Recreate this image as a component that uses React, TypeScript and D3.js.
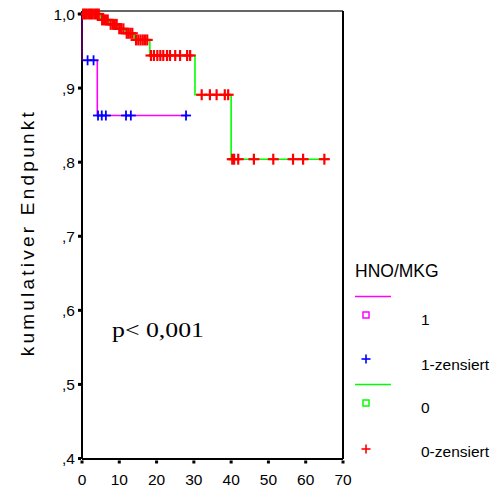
import React from "react";
import * as d3 from "d3";

// Group "1" (HNO/MKG = 1): step curve
const g1Times = [0, 0, 4.1, 28.5];
const g1Surv = [1.0, 0.9375, 0.863, 0.863];
const g1Censored = [1.5, 3.1, 4.3, 5.3, 6.4, 11.8, 13.1, 27.9];

// Group "0" (HNO/MKG = 0): step curve
const g0Times = [0, 5.0, 7.3, 9.6, 11.6, 14.0, 18.2, 30.3, 40.0, 66];
const g0Surv = [1.0, 0.992, 0.986, 0.98, 0.974, 0.965, 0.944, 0.891, 0.804, 0.804];
const g0Censored = [
  0.3, 0.8, 1.3, 1.9, 2.4, 2.9, 3.5, 4.0, 4.5,
  5.4, 5.9, 6.4, 6.9,
  7.7, 8.3, 8.8, 9.3,
  10.0, 10.5, 11.1,
  12.0, 12.5, 13.0, 13.5,
  14.5, 15.1, 15.7, 16.3, 16.9, 17.5,
  18.5, 19.3, 20.2, 21.0, 21.8, 22.8, 23.6, 25.0, 26.3, 28.2, 29.0,
  32.1, 34.3, 36.1, 38.3, 39.2,
  40.3, 40.8, 41.9, 46.1, 51.3, 56.6, 59.3, 65.0,
];

const xTicks = [0, 10, 20, 30, 40, 50, 60, 70];
const yTicks = [1.0, 0.9, 0.8, 0.7, 0.6, 0.5, 0.4];
const yTickLabels = ["1,0", ",9", ",8", ",7", ",6", ",5", ",4"];

const legendTitle = "HNO/MKG";
const legendLabels = ["1", "1-zensiert", "0", "0-zensiert"];
const yTitle = "kumulativer Endpunkt";
const pText = "p< 0,001";

const SANS = "'Liberation Sans', Arial, sans-serif";
const SERIF = "'Liberation Serif', 'Times New Roman', serif";

function survAt(times: number[], surv: number[], t: number) {
  let v = surv[0];
  for (let i = 0; i < times.length; i++) {
    if (times[i] <= t) v = surv[i];
  }
  return v;
}

export default function App() {
  const x = d3.scaleLinear().domain([0, 70]).range([82, 343]);
  const y = d3.scaleLinear().domain([0.4, 1.0]).range([458.5, 14]);
  const frameTop = 11;
  const frameBottom = 459;

  const line = d3
    .line<[number, number]>()
    .x((d) => x(d[0]))
    .y((d) => y(d[1]))
    .curve(d3.curveStepAfter);

  const g1Path = line(g1Times.map((t, i) => [t, g1Surv[i]] as [number, number])) || "";
  const g0Path = line(g0Times.map((t, i) => [t, g0Surv[i]] as [number, number])) || "";

  const plus = (cx: number, cy: number, s: number, color: string, w: number, key: string) => (
    <g key={key} stroke={color} strokeWidth={w}>
      <line x1={cx - s} x2={cx + s} y1={cy} y2={cy} />
      <line x1={cx} x2={cx} y1={cy - s} y2={cy + s} />
    </g>
  );

  return (
    <svg
      width={498}
      height={492}
      style={{ position: "absolute", left: 0, top: 0, background: "#fff" }}
    >
      <rect x={0} y={0} width={498} height={492} fill="#fff" />

      {/* curves */}
      <path d={g1Path} fill="none" stroke="#ff00ff" strokeWidth={1.6} />
      <path d={g0Path} fill="none" stroke="#00ff00" strokeWidth={1.6} />

      {/* frame */}
      <line x1={x(0)} x2={x(70)} y1={frameTop} y2={frameTop} stroke="#333" strokeWidth={1.5} />
      <line x1={x(70)} x2={x(70)} y1={frameTop} y2={frameBottom} stroke="#000" strokeWidth={2} />
      <line x1={x(0)} x2={x(0)} y1={frameTop} y2={frameBottom} stroke="#000" strokeWidth={2} />
      <line x1={x(0)} x2={x(70)} y1={frameBottom} y2={frameBottom} stroke="#000" strokeWidth={2} />
      <line x1={x(0)} x2={x(0)} y1={y(1.0)} y2={y(0.9375)} stroke="#6a0070" strokeWidth={1.5} />

      {/* censor marks */}
      {g1Censored.map((t, i) =>
        plus(x(t), y(survAt(g1Times, g1Surv, t)), 5, "#0000ff", 1.8, "c1" + i)
      )}
      {g0Censored.map((t, i) =>
        plus(x(t), y(survAt(g0Times, g0Surv, t)), 5.5, "#ff0000", 2.2, "c0" + i)
      )}

      {/* y ticks */}
      {yTicks.map((v, i) => (
        <g key={"yt" + i}>
          <rect x={x(0) - 4} y={y(v) - 1.5} width={3} height={3} fill="#000" />
          <text
            x={75}
            y={y(v) + 5.5}
            textAnchor="end"
            fontFamily={SANS}
            fontSize={15.5}
            fill="#000"
          >
            {yTickLabels[i]}
          </text>
        </g>
      ))}

      {/* x ticks */}
      {xTicks.map((v, i) => (
        <g key={"xt" + i}>
          <rect x={x(v) - 1.5} y={frameBottom + 1.5} width={3} height={3} fill="#000" />
          <text
            x={x(v)}
            y={485}
            textAnchor="middle"
            fontFamily={SANS}
            fontSize={15.5}
            fill="#000"
          >
            {v}
          </text>
        </g>
      ))}

      {/* y axis title */}
      <text
        transform={`translate(34,${(y(0.4) + y(1.0)) / 2 - 2}) rotate(-90)`}
        textAnchor="middle"
        fontFamily={SANS}
        fontSize={19}
        textLength={244}
        lengthAdjust="spacing"
        fill="#000"
      >
        {yTitle}
      </text>

      {/* p value */}
      <text
        x={112}
        y={337}
        fontFamily={SERIF}
        fontSize={22}
        textLength={92}
        lengthAdjust="spacingAndGlyphs"
        fill="#000"
      >
        {pText}
      </text>

      {/* legend */}
      <text x={355} y={277} fontFamily={SANS} fontSize={17.5} fill="#000">
        {legendTitle}
      </text>
      <line x1={355} x2={391} y1={296.5} y2={296.5} stroke="#ff00ff" strokeWidth={1.6} />
      <rect x={363} y={312} width={6} height={6} fill="none" stroke="#ff00ff" strokeWidth={1.5} />
      <text x={421} y={325} fontFamily={SANS} fontSize={15.5} fill="#000">
        {legendLabels[0]}
      </text>
      {plus(366, 359, 4.5, "#0000ff", 1.6, "lg1")}
      <text x={421} y={370} fontFamily={SANS} fontSize={15.5} fill="#000">
        {legendLabels[1]}
      </text>
      <line x1={355} x2={391} y1={384.5} y2={384.5} stroke="#00ff00" strokeWidth={1.6} />
      <rect x={363} y={400} width={6} height={6} fill="none" stroke="#00ff00" strokeWidth={1.5} />
      <text x={421} y={413} fontFamily={SANS} fontSize={15.5} fill="#000">
        {legendLabels[2]}
      </text>
      {plus(366, 449, 4.5, "#ff0000", 1.6, "lg0")}
      <text x={421} y={457} fontFamily={SANS} fontSize={15.5} fill="#000">
        {legendLabels[3]}
      </text>
    </svg>
  );
}
